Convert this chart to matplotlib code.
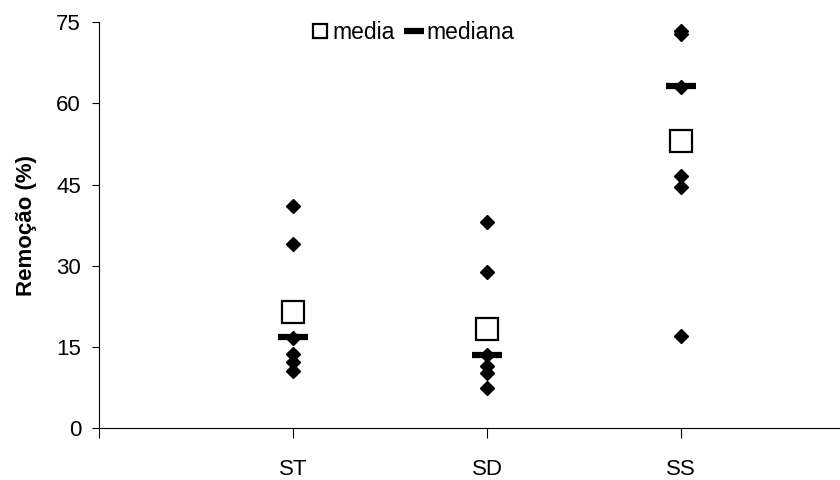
import matplotlib.pyplot as plt
import numpy as np

plt.rcParams['font.family'] = ['Liberation Sans', 'DejaVu Sans']

categories = ['ST', 'SD', 'SS']

# individual removal values per treatment (%)
obs_ST = [41.1, 34.0, 16.7, 13.7, 12.2, 10.6]
obs_SD = [38.1, 28.9, 13.5, 11.5, 10.2, 7.4]
obs_SS = [73.3, 72.8, 63.1, 46.6, 44.6, 17.0]

media = [21.5, 18.3, 53.1]
mediana = [16.8, 13.5, 63.2]

fig = plt.figure(figsize=(8.4, 4.8), dpi=100)
ax = fig.add_axes([0.118, 0.108, 0.882, 0.846])

xpos = np.arange(1, len(categories) + 1)
for x, vals in zip(xpos, [obs_ST, obs_SD, obs_SS]):
    ax.plot([x] * len(vals), vals, linestyle='none', marker='D',
            markersize=7, color='black', zorder=3)

ax.plot(xpos, mediana, linestyle='none', marker='_', markersize=22,
        markeredgewidth=4.5, color='black', label='mediana', zorder=4)
ax.plot(xpos, media, linestyle='none', marker='s', markersize=16.5,
        markerfacecolor='white', markeredgecolor='black',
        markeredgewidth=1.6, label='media', zorder=5)

ax.set_xlim(0, 3.82)
ax.set_ylim(0, 75)
ax.set_yticks(np.arange(0, 76, 15))
ax.set_xticks(np.arange(0, 4))
ax.set_xticklabels([''] + categories)
ax.tick_params(axis='both', labelsize=16, color='black')
ax.tick_params(axis='y', direction='out', length=5, pad=8)
ax.tick_params(axis='x', direction='out', length=7, pad=15)

for s in ['top', 'right']:
    ax.spines[s].set_visible(False)
ax.spines['left'].set_bounds(0, 75)

ax.set_ylabel('Remoção (%)', fontsize=16, fontweight='bold', labelpad=14)

handles, labels = ax.get_legend_handles_labels()
leg = ax.legend(handles[::-1], labels[::-1], loc='upper center',
                bbox_to_anchor=(0.424, 1.043), ncol=2, frameon=False,
                fontsize=16.5, handlelength=0.7, handletextpad=0.2,
                columnspacing=0.5, markerscale=0.65, borderpad=0.2)

fig.savefig('out.png', dpi=100)
